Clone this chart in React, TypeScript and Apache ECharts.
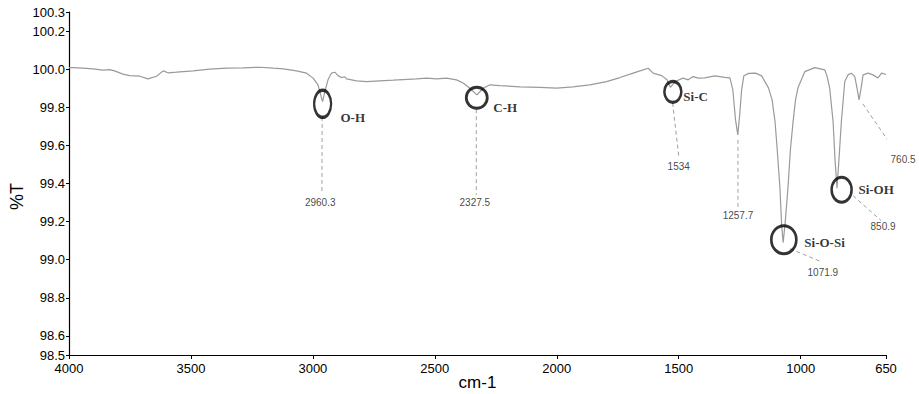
import React, { useEffect, useRef } from "react";
import * as echarts from "echarts";

// FTIR spectrum: [wavenumber cm-1, %T]
const spectrum: [number, number][] = [
  [4000, 100.008], [3984, 100.008], [3943, 100.005], [3902, 100.002], [3861, 99.995], [3833, 99.998],
  [3813, 99.991], [3779, 99.974], [3751, 99.966], [3710, 99.963], [3676, 99.949], [3641, 99.963],
  [3614, 99.991], [3594, 99.981], [3559, 99.984], [3491, 99.991], [3423, 100.0], [3354, 100.005],
  [3286, 100.007], [3218, 100.01], [3163, 100.005], [3121, 100.002], [3067, 99.991], [3026, 99.979],
  [2999, 99.953], [2979, 99.918], [2968, 99.865], [2960.3, 99.83], [2951, 99.881], [2938, 99.944],
  [2924, 99.979], [2910, 99.984], [2897, 99.966], [2883, 99.956], [2869, 99.96], [2862, 99.949],
  [2821, 99.939], [2780, 99.935], [2726, 99.939], [2671, 99.942], [2630, 99.945], [2575, 99.949],
  [2534, 99.953], [2493, 99.949], [2452, 99.953], [2411, 99.944], [2384, 99.927], [2356, 99.9],
  [2327.5, 99.865], [2302, 99.9], [2274, 99.918], [2233, 99.914], [2151, 99.907], [2070, 99.904],
  [2001, 99.9], [1933, 99.907], [1865, 99.918], [1796, 99.935], [1741, 99.956], [1687, 99.979],
  [1646, 99.996], [1625, 100.005], [1605, 99.979], [1570, 99.966], [1548, 99.944], [1534, 99.905],
  [1515, 99.935], [1482, 99.953], [1461, 99.944], [1441, 99.961], [1420, 99.953], [1393, 99.954],
  [1352, 99.965], [1311, 99.957], [1290, 99.954], [1278, 99.891], [1267, 99.734], [1257.7, 99.655],
  [1250, 99.76], [1242, 99.891], [1233, 99.965], [1213, 99.978], [1185, 99.979], [1160, 99.965],
  [1132, 99.902], [1117, 99.839], [1105, 99.725], [1096, 99.577], [1085, 99.378], [1078, 99.184],
  [1071.9, 99.09], [1064, 99.184], [1052, 99.378], [1042, 99.577], [1031, 99.725], [1021, 99.839],
  [1011, 99.902], [983, 99.987], [942, 100.008], [901, 99.996], [892, 99.965], [881, 99.902],
  [867, 99.725], [859, 99.524], [850.9, 99.375], [843, 99.524], [833, 99.725], [819, 99.935],
  [806, 99.97], [792, 99.979], [778, 99.961], [769, 99.902], [760.5, 99.839], [752, 99.902],
  [744, 99.97], [723, 99.979], [703, 99.97], [683, 99.954], [668, 99.979], [650, 99.972],
];

const xTicks = [4000, 3500, 3000, 2500, 2000, 1500, 1000, 650];
const yTicks = [98.5, 98.6, 98.8, 99.0, 99.2, 99.4, 99.6, 99.8, 100.0, 100.2, 100.3];

// Peak number labels: text, label anchor [wn, T]
const peakNames = ["2960.3", "2327.5", "1534", "1257.7", "1071.9", "850.9", "760.5"];
const peakLabelAt: [number, number][] = [
  [2970, 99.3], [2336, 99.3], [1500, 99.488], [1257, 99.231], [909, 98.932], [662, 99.173], [580, 99.524],
];
// Leader lines from peak to label: [start, end]
const leaderLines: [[number, number], [number, number]][] = [
  [[2962, 99.749], [2963, 99.351]],
  [[2330, 99.79], [2330, 99.34]],
  [[1525, 99.823], [1500, 99.545]],
  [[1257, 99.629], [1257, 99.273]],
  [[1044, 99.058], [917, 98.99]],
  [[785, 99.336], [670, 99.205]],
  [[745, 99.818], [613, 99.572]],
];

// Bond assignments: name, circle center [wn, T], text anchor [wn, T]
const bondNames = ["O-H", "C-H", "Si-C", "Si-O-Si", "Si-OH"];
const bondCircleAt: [number, number][] = [
  [2960, 99.818], [2328, 99.85], [1524, 99.881], [1069, 99.105], [832, 99.367],
];
const bondTextAt: [number, number][] = [
  [2889, 99.744], [2262, 99.797], [1483, 99.855], [987, 99.089], [765, 99.367],
];

const circleSize: Record<string, [number, number]> = {
  "O-H": [17, 27],
  "C-H": [21, 21],
  "Si-C": [17, 21],
  "Si-O-Si": [25, 28],
  "Si-OH": [20, 25],
};

const ELLIPSE = "path://M0,50A50,50,0,1,1,100,50A50,50,0,1,1,0,50Z";

export default function App() {
  const ref = useRef<HTMLDivElement>(null);
  useEffect(() => {
    if (!ref.current) return;
    const chart = echarts.init(ref.current, undefined, { renderer: "svg" });
    const sans = "'Liberation Sans', Arial, sans-serif";
    const serif = "'Liberation Serif', 'Times New Roman', serif";

    const series: any[] = [
      {
        type: "line",
        data: spectrum,
        showSymbol: false,
        symbol: "none",
        lineStyle: { color: "#9a9a9a", width: 1.2 },
        silent: true,
        z: 3,
      },
    ];
    leaderLines.forEach((seg) => {
      series.push({
        type: "line",
        data: seg,
        symbol: "none",
        clip: false,
        silent: true,
        lineStyle: { color: "#a0a0a0", width: 1, type: [4, 3] },
        z: 2,
      });
    });
    series.push({
      type: "scatter",
      symbolSize: 1,
      itemStyle: { color: "rgba(0,0,0,0)" },
      clip: false,
      silent: true,
      data: peakNames.map((n, i) => ({ name: n, value: peakLabelAt[i] })),
      label: {
        show: true,
        position: "inside",
        formatter: "{b}",
        fontFamily: sans,
        fontSize: 10,
        color: "#111",
      },
      z: 4,
    });
    series.push({
      type: "scatter",
      symbol: ELLIPSE,
      clip: false,
      silent: true,
      data: bondNames.map((n, i) => ({ name: n, value: bondCircleAt[i], symbolSize: circleSize[n] })),
      itemStyle: { color: "rgba(0,0,0,0)", borderColor: "#000", borderWidth: 2.8 },
      z: 5,
    });
    series.push({
      type: "scatter",
      symbolSize: 1,
      itemStyle: { color: "rgba(0,0,0,0)" },
      clip: false,
      silent: true,
      data: bondNames.map((n, i) => ({ name: n, value: bondTextAt[i] })),
      label: {
        show: true,
        position: "right",
        distance: 0,
        formatter: "{b}",
        fontFamily: serif,
        fontWeight: "bold",
        fontSize: 13,
        color: "#000",
      },
      z: 6,
    });

    chart.setOption({
      animation: false,
      backgroundColor: "#fff",
      grid: { left: 69, right: 33, top: 12, bottom: 39, containLabel: false, outerBoundsMode: "none" },
      xAxis: {
        type: "value",
        inverse: true,
        min: 650,
        max: 4000,
        name: "cm-1",
        nameLocation: "middle",
        nameGap: 19,
        nameMoveOverlap: false,
        nameTextStyle: { fontFamily: sans, fontSize: 17, color: "#000" },
        axisLine: { show: true, lineStyle: { color: "#000", width: 1.2 } },
        axisTick: { show: true, length: 4, customValues: xTicks, lineStyle: { color: "#000" } },
        axisLabel: {
          customValues: xTicks,
          formatter: (v: number) => String(v),
          fontFamily: sans,
          fontSize: 13,
          color: "#000",
          margin: 7,
          showMinLabel: true,
          showMaxLabel: true,
        },
        splitLine: { show: false },
      },
      yAxis: {
        type: "value",
        min: 98.5,
        max: 100.3,
        name: "%T",
        nameLocation: "middle",
        nameGap: 43,
        nameMoveOverlap: false,
        nameTextStyle: { fontFamily: sans, fontSize: 18, color: "#000", padding: [0, 26, 0, 0] },
        axisLine: { show: true, lineStyle: { color: "#000", width: 1.2 } },
        axisTick: { show: true, length: 3, customValues: yTicks, lineStyle: { color: "#000" } },
        axisLabel: {
          customValues: yTicks,
          formatter: (v: number) => v.toFixed(1),
          fontFamily: sans,
          fontSize: 13,
          color: "#000",
          margin: 4,
          showMinLabel: true,
          showMaxLabel: true,
        },
        splitLine: { show: false },
      },
      series,
    });
    return () => chart.dispose();
  }, []);

  return (
    <div
      ref={ref}
      style={{ position: "fixed", left: 0, top: 0, width: 919, height: 394, background: "#fff" }}
    />
  );
}
